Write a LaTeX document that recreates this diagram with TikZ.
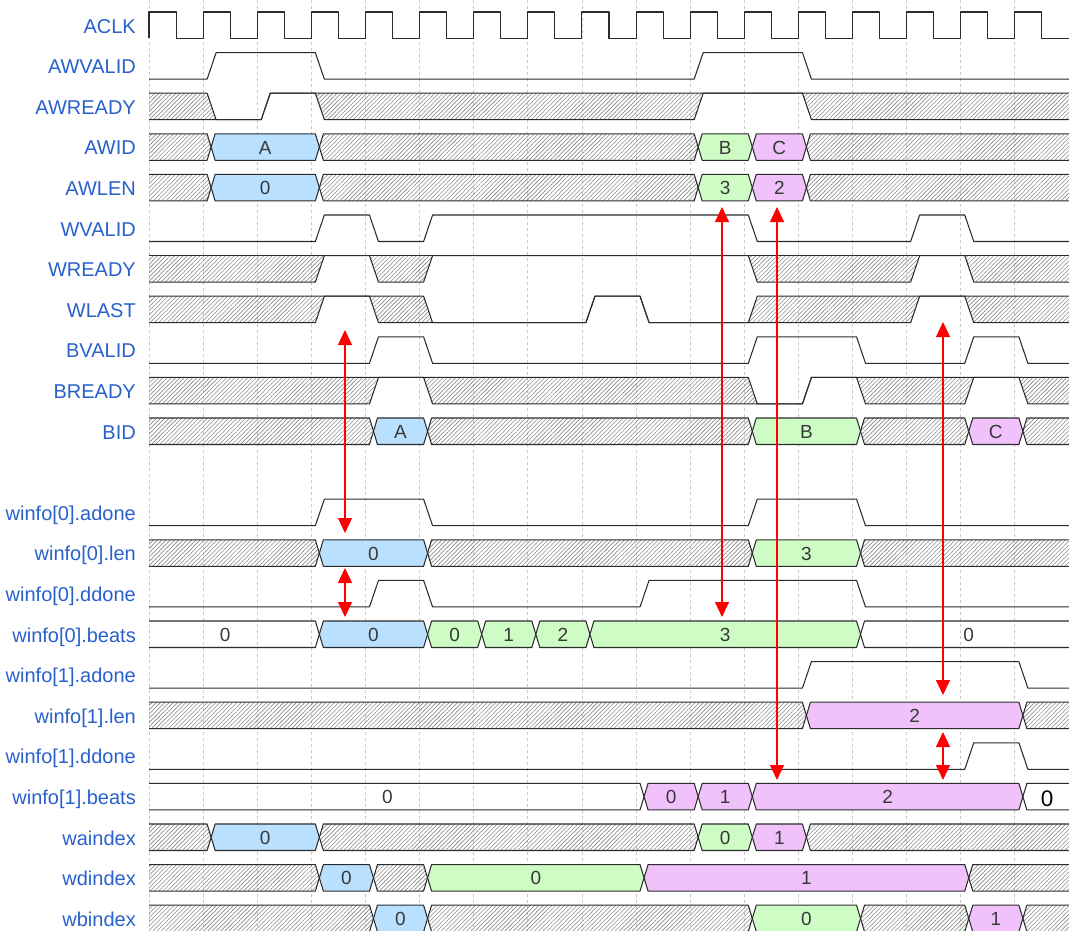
\documentclass[tikz,border=0pt]{standalone}
\usepackage{fontspec}
\setmainfont{Liberation Sans}
\usetikzlibrary{patterns.meta,arrows.meta}
\definecolor{lblue}{HTML}{2860CC}
\definecolor{fblu}{HTML}{B9E0FF}
\definecolor{fgrn}{HTML}{CDFDC5}
\definecolor{fpnk}{HTML}{F0C1FB}
\definecolor{gridc}{HTML}{C8C8C8}
\definecolor{hatc}{HTML}{8A8A8A}
\definecolor{sline}{HTML}{2B2B2B}
\def\cyc{54.1176}
\newcommand\gx[2]{149+\cyc*(#1)+(#2)}
\newcommand\yT[1]{12+40.6*(#1)}
\newcommand\yB[1]{38.5+40.6*(#1)}
\newcommand\yM[1]{25.25+40.6*(#1)}
\newcommand\yV[1]{32.25+40.6*(#1)}
\newcommand\yL[1]{33.05+40.6*(#1)}
% digital line: row, start offset, end offset, list k/from/to (offsets from top)
\newcommand\digi[4]{%
  \draw[sig] (149,{\yT{#1}+#2}) \foreach \k/\a/\b in {#4} { -- ({\gx{\k}{4}},{\yT{#1}+\a}) -- ({\gx{\k}{13}},{\yT{#1}+\b}) } -- (1069,{\yT{#1}+#3});}
\newcommand\hatchseg[5]{\fill[hat] ({#2},{\yT{#1}}) -- ({#4},{\yT{#1}}) -- ({#5},{\yB{#1}}) -- ({#3},{\yB{#1}}) -- cycle;}
\newcommand\busseg[5]{%
  \ifnum#2=0 \def\xl{149}\def\xlc{149}\def\xt{(149+\gx{#3}{0})/2-5}%
  \else \def\xl{\gx{#2}{8}}\def\xlc{\gx{#2}{12}}\fi
  \ifnum#3=17 \def\xr{1069}\def\xrc{1069}\def\xt{(\gx{#2}{0}+1069)/2+8}%
  \else \def\xr{\gx{#3}{8}}\def\xrc{\gx{#3}{4}}\fi
  \ifnum#2>0 \ifnum#3<17 \def\xt{(\gx{#2}{0}+\gx{#3}{0})/2+8}\fi\fi
  \fill[#4] ({\xlc},{\yT{#1}}) -- ({\xrc},{\yT{#1}}) -- ({\xr},{\yM{#1}}) -- ({\xrc},{\yB{#1}}) -- ({\xlc},{\yB{#1}}) -- ({\xl},{\yM{#1}}) -- cycle;
  \ifnum#2=0
    \draw[sig] ({\xlc},{\yT{#1}}) -- ({\xrc},{\yT{#1}}) -- ({\xr},{\yM{#1}}) -- ({\xrc},{\yB{#1}}) -- ({\xlc},{\yB{#1}});
  \else\ifnum#3=17
    \draw[sig] ({\xrc},{\yT{#1}}) -- ({\xlc},{\yT{#1}}) -- ({\xl},{\yM{#1}}) -- ({\xlc},{\yB{#1}}) -- ({\xrc},{\yB{#1}});
  \else
    \draw[sig] ({\xlc},{\yT{#1}}) -- ({\xrc},{\yT{#1}}) -- ({\xr},{\yM{#1}}) -- ({\xrc},{\yB{#1}}) -- ({\xlc},{\yB{#1}}) -- ({\xl},{\yM{#1}}) -- cycle;
  \fi\fi
  \if\relax\detokenize{#5}\relax\else
    \node[val] (v#1x#2) at ({\xt},{\yV{#1}}) {#5};
  \fi
}
\tikzset{
  sig/.style={draw=sline, line width=1.05pt, line join=round},
  hat/.style={pattern={Lines[angle=45,distance=3pt,line width=0.6pt]}, pattern color=hatc},
  blu/.style={fill=fblu}, grn/.style={fill=fgrn}, pnk/.style={fill=fpnk}, wht/.style={fill=none},
  val/.style={anchor=base, inner sep=0pt, text=black!78, font=\fontsize{19}{19}\selectfont},
  lbl/.style={anchor=base east, inner sep=0pt, text=lblue, font=\fontsize{20}{20}\selectfont},
  gridln/.style={draw=gridc, line width=0.8pt, dash pattern=on 3pt off 3pt},
  redarr/.style={draw=red, line width=1.1pt, {Triangle[length=15pt,width=14pt]}-{Triangle[length=15pt,width=14pt]}},
}
\begin{document}
\begin{tikzpicture}[x=1pt,y=-1pt]
\useasboundingbox (0,0) rectangle (1069,931);
% grid
\foreach \k in {0,...,16} \draw[gridln] ({\gx{\k}{0}},0) -- ({\gx{\k}{0}},931);
% labels
\foreach \i/\t in {0/ACLK,1/AWVALID,2/AWREADY,3/AWID,4/AWLEN,5/WVALID,6/WREADY,7/WLAST,8/BVALID,9/BREADY,10/BID,12/winfo[0].adone,13/winfo[0].len,14/winfo[0].ddone,15/winfo[0].beats,16/winfo[1].adone,17/winfo[1].len,18/winfo[1].ddone,19/winfo[1].beats,20/waindex,21/wdindex,22/wbindex}
  \node[lbl] (l\i) at (136,{\yL{\i}}) {\t};
% ACLK
\draw[sig] (149,{\yB0}) -- (149,{\yT0}) \foreach \k in {0,...,15} { -- ({\gx{\k}{27.06}},{\yT0}) -- ({\gx{\k}{27.06}},{\yB0}) -- ({\gx{\k+1}{0}},{\yB0}) -- ({\gx{\k+1}{0}},{\yT0}) } -- ({\gx{16}{27.06}},{\yT0}) -- ({\gx{16}{27.06}},{\yB0}) -- (1069,{\yB0});
% AWVALID
\digi{1}{26.5}{26.5}{1/26.5/0,3/0/26.5,10/26.5/0,12/0/26.5}
% AWREADY
\hatchseg{2}{149}{149}{\gx{1}{4}}{\gx{1}{13}}
\hatchseg{2}{\gx{3}{4}}{\gx{3}{13}}{\gx{10}{13}}{\gx{10}{4}}
\hatchseg{2}{\gx{12}{4}}{\gx{12}{13}}{1069}{1069}
\digi{2}{0}{0}{1/0/26.5,2/26.5/0}
\digi{2}{26.5}{26.5}{2/26.5/0,3/0/26.5,10/26.5/0,12/0/26.5}
% AWID
\busseg{3}{0}{1}{hat}{}
\busseg{3}{1}{3}{blu}{A}
\busseg{3}{3}{10}{hat}{}
\busseg{3}{10}{11}{grn}{B}
\busseg{3}{11}{12}{pnk}{C}
\busseg{3}{12}{17}{hat}{}
% AWLEN
\busseg{4}{0}{1}{hat}{}
\busseg{4}{1}{3}{blu}{0}
\busseg{4}{3}{10}{hat}{}
\busseg{4}{10}{11}{grn}{3}
\busseg{4}{11}{12}{pnk}{2}
\busseg{4}{12}{17}{hat}{}
% WVALID
\digi{5}{26.5}{26.5}{3/26.5/0,4/0/26.5,5/26.5/0,11/0/26.5,14/26.5/0,15/0/26.5}
% WREADY
\hatchseg{6}{149}{149}{\gx{3}{13}}{\gx{3}{4}}
\hatchseg{6}{\gx{4}{4}}{\gx{4}{13}}{\gx{5}{13}}{\gx{5}{4}}
\hatchseg{6}{\gx{11}{4}}{\gx{11}{13}}{\gx{14}{13}}{\gx{14}{4}}
\hatchseg{6}{\gx{15}{4}}{\gx{15}{13}}{1069}{1069}
\draw[sig] (149,{\yT{6}}) -- (1069,{\yT{6}});
\digi{6}{26.5}{26.5}{3/26.5/0,4/0/26.5,5/26.5/0,11/0/26.5,14/26.5/0,15/0/26.5}
% WLAST
\hatchseg{7}{149}{149}{\gx{3}{13}}{\gx{3}{4}}
\hatchseg{7}{\gx{4}{4}}{\gx{4}{13}}{\gx{5}{4}}{\gx{5}{13}}
\hatchseg{7}{\gx{11}{13}}{\gx{11}{4}}{\gx{14}{13}}{\gx{14}{4}}
\hatchseg{7}{\gx{15}{4}}{\gx{15}{13}}{1069}{1069}
\digi{7}{0}{0}{5/0/26.5,8/26.5/0,9/0/26.5,11/26.5/0}
\digi{7}{26.5}{26.5}{3/26.5/0,4/0/26.5,8/26.5/0,9/0/26.5,14/26.5/0,15/0/26.5}
% BVALID
\digi{8}{26.5}{26.5}{4/26.5/0,5/0/26.5,11/26.5/0,13/0/26.5,15/26.5/0,16/0/26.5}
% BREADY
\hatchseg{9}{149}{149}{\gx{4}{13}}{\gx{4}{4}}
\hatchseg{9}{\gx{5}{4}}{\gx{5}{13}}{\gx{11}{4}}{\gx{11}{13}}
\hatchseg{9}{\gx{13}{4}}{\gx{13}{13}}{\gx{15}{13}}{\gx{15}{4}}
\hatchseg{9}{\gx{16}{4}}{\gx{16}{13}}{1069}{1069}
\digi{9}{0}{0}{11/0/26.5,12/26.5/0}
\digi{9}{26.5}{26.5}{4/26.5/0,5/0/26.5,12/26.5/0,13/0/26.5,15/26.5/0,16/0/26.5}
% BID
\busseg{10}{0}{4}{hat}{}
\busseg{10}{4}{5}{blu}{A}
\busseg{10}{5}{11}{hat}{}
\busseg{10}{11}{13}{grn}{B}
\busseg{10}{13}{15}{hat}{}
\busseg{10}{15}{16}{pnk}{C}
\busseg{10}{16}{17}{hat}{}
% winfo[0].adone
\digi{12}{26.5}{26.5}{3/26.5/0,5/0/26.5,11/26.5/0,13/0/26.5}
% winfo[0].len
\busseg{13}{0}{3}{hat}{}
\busseg{13}{3}{5}{blu}{0}
\busseg{13}{5}{11}{hat}{}
\busseg{13}{11}{13}{grn}{3}
\busseg{13}{13}{17}{hat}{}
% winfo[0].ddone
\digi{14}{26.5}{26.5}{4/26.5/0,5/0/26.5,9/26.5/0,13/0/26.5}
% winfo[0].beats
\busseg{15}{0}{3}{wht}{0}
\busseg{15}{3}{5}{blu}{0}
\busseg{15}{5}{6}{grn}{0}
\busseg{15}{6}{7}{grn}{1}
\busseg{15}{7}{8}{grn}{2}
\busseg{15}{8}{13}{grn}{3}
\busseg{15}{13}{17}{wht}{0}
% winfo[1].adone
\digi{16}{26.5}{26.5}{12/26.5/0,16/0/26.5}
% winfo[1].len
\busseg{17}{0}{12}{hat}{}
\busseg{17}{12}{16}{pnk}{2}
\busseg{17}{16}{17}{hat}{}
% winfo[1].ddone
\digi{18}{26.5}{26.5}{15/26.5/0,16/0/26.5}
% winfo[1].beats
\busseg{19}{0}{9}{wht}{0}
\busseg{19}{9}{10}{pnk}{0}
\busseg{19}{10}{11}{pnk}{1}
\busseg{19}{11}{16}{pnk}{2}
\busseg{19}{16}{17}{wht}{}
\node[anchor=base, inner sep=0pt, text=black, font=\fontsize{22.5}{22.5}\selectfont] (big0) at (1047,806) {0};
% waindex
\busseg{20}{0}{1}{hat}{}
\busseg{20}{1}{3}{blu}{0}
\busseg{20}{3}{10}{hat}{}
\busseg{20}{10}{11}{grn}{0}
\busseg{20}{11}{12}{pnk}{1}
\busseg{20}{12}{17}{hat}{}
% wdindex
\busseg{21}{0}{3}{hat}{}
\busseg{21}{3}{4}{blu}{0}
\busseg{21}{4}{5}{hat}{}
\busseg{21}{5}{9}{grn}{0}
\busseg{21}{9}{15}{pnk}{1}
\busseg{21}{15}{17}{hat}{}
% wbindex
\busseg{22}{0}{4}{hat}{}
\busseg{22}{4}{5}{blu}{0}
\busseg{22}{5}{11}{hat}{}
\busseg{22}{11}{13}{grn}{0}
\busseg{22}{13}{15}{hat}{}
\busseg{22}{15}{16}{pnk}{1}
\busseg{22}{16}{17}{hat}{}
% red arrows
\coordinate (a1t) at (345,330); \coordinate (a1b) at (345,533);
\coordinate (a2t) at (345,568); \coordinate (a2b) at (345,617);
\coordinate (a3t) at (722,207); \coordinate (a3b) at (722,617);
\coordinate (a4t) at (777,207); \coordinate (a4b) at (777,780);
\coordinate (a5t) at (943,322); \coordinate (a5b) at (943,695);
\coordinate (a6t) at (943,732); \coordinate (a6b) at (943,780);
\draw[redarr] (a1t) -- (a1b);
\draw[redarr] (a2t) -- (a2b);
\draw[redarr] (a3t) -- (a3b);
\draw[redarr] (a4t) -- (a4b);
\draw[redarr] (a5t) -- (a5b);
\draw[redarr] (a6t) -- (a6b);
\end{tikzpicture}
\end{document}
